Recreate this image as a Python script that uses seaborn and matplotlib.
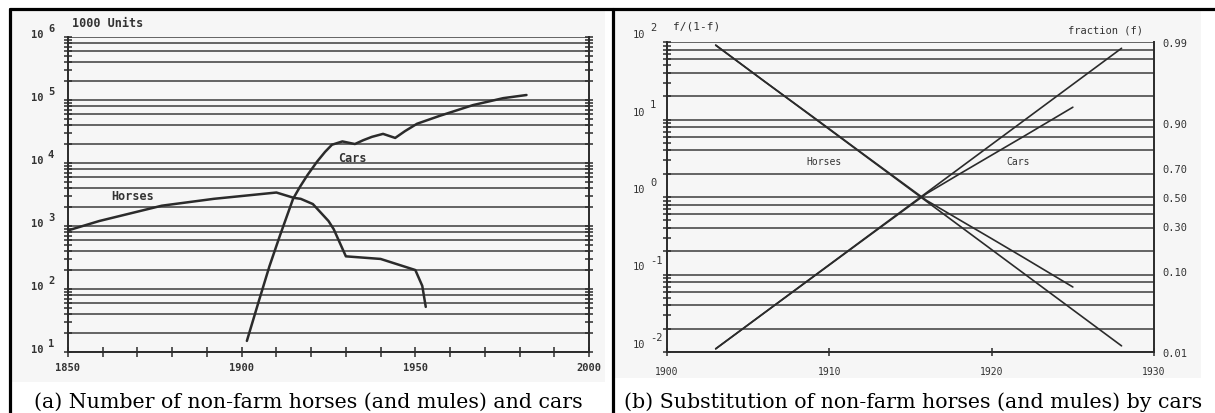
import matplotlib
matplotlib.use("Agg")
import matplotlib.pyplot as plt
import matplotlib.ticker as mticker
import matplotlib.transforms as mtransforms
from matplotlib.lines import Line2D
from matplotlib.patches import Rectangle
import pandas as pd
import seaborn as sns

# ---------------- data ----------------
# (a) non-farm horses (and mules) and cars, in 1000 units
horse_years = [1850, 1859, 1877, 1892, 1910, 1915, 1917, 1920.5, 1925, 1926.5,
               1930, 1940, 1950, 1952, 1953]
horse_units = [850, 1200, 2100, 2700, 3400, 2800, 2700, 2230, 1200, 890,
               330, 300, 200, 112, 52]

car_years = [1901.5, 1905, 1908, 1911, 1914.8, 1916.8, 1919, 1921.7, 1924, 1926,
             1929, 1932.6, 1935, 1937.5, 1940.7, 1944.2, 1947, 1950.5, 1957,
             1966.6, 1975.3, 1982]
car_units = [15, 66, 230, 700, 2700, 4200, 6500, 10500, 15000, 19500,
             22000, 20000, 23000, 26000, 29000, 25000, 32000, 42000, 56000,
             83000, 107000, 120000]

# (b) substitution f/(1-f): fitted logistic lines and observed series
fit_years = [1903, 1928]
cars_fit = [0.011, 83]
horses_fit = [91, 0.012]

obs_years = [1903, 1906, 1909, 1912, 1915, 1916, 1918, 1920, 1922, 1925]
cars_obs = [0.011, 0.032, 0.093, 0.27, 0.78, 1.11, 1.97, 3.47, 6.1, 14.4]
horses_obs = [91, 31, 10.8, 3.7, 1.28, 0.90, 0.51, 0.29, 0.164, 0.069]

fraction_ticks = [0.99, 0.90, 0.70, 0.50, 0.30, 0.10, 0.01]

decades_a = [1, 2, 3, 4, 5, 6]
decades_b = [-2, -1, 0, 1, 2]

# ---------------- style ----------------
sns.set_style("white")
plt.rcParams["font.family"] = ["DejaVu Sans Mono"]
INK = "#2b2b2b"
GRID = "#3c3c3c"
TXT = "#333333"
SCAN = "#f6f6f6"

W, H = 1215, 414
fig = plt.figure(figsize=(W / 100, H / 100), dpi=100)
fig.patch.set_facecolor("white")


def px_box(x0, y0, x1, y1):
    """Axes rectangle from pixel edges (top-left origin)."""
    return [x0 / W, 1 - y1 / H, (x1 - x0) / W, (y1 - y0) / H]


# scanned-figure backgrounds
for (x0, y0, x1, y1) in [(12, 12, 605, 383), (615, 12, 1201, 379)]:
    fig.add_artist(Rectangle((x0 / W, 1 - y1 / H), (x1 - x0) / W, (y1 - y0) / H,
                             transform=fig.transFigure, facecolor=SCAN,
                             edgecolor="none", zorder=0))

# table frame
for xs, ys in [([10, W], [10, 10]), ([10, 10], [10, H]), ([613, 613], [10, H])]:
    fig.add_artist(Line2D([x / W for x in xs], [1 - y / H for y in ys],
                          transform=fig.transFigure, color="black", lw=2.3,
                          zorder=5))


def log_frame(ax):
    ax.set_facecolor("none")
    ax.set_yscale("log")
    ax.yaxis.set_major_locator(mticker.LogLocator(base=10, subs=(1, 2, 4, 6, 8)))
    ax.yaxis.set_minor_locator(mticker.LogLocator(base=10, subs=(3, 5, 7, 9)))
    ax.yaxis.set_major_formatter(mticker.NullFormatter())
    ax.yaxis.set_minor_formatter(mticker.NullFormatter())
    ax.grid(axis="y", which="major", color=GRID, lw=1.1)
    ax.grid(axis="x", visible=False)
    ax.spines["top"].set_visible(False)
    for s in ["left", "right", "bottom"]:
        ax.spines[s].set_color(INK)
        ax.spines[s].set_linewidth(1.4)
    ax.tick_params(axis="y", which="both", direction="inout", length=6,
                   width=1.1, color=INK, left=True, right=True)
    ax.tick_params(axis="x", which="both", direction="inout", length=7,
                   width=1.1, color=INK, bottom=True)
    ax.set_xlabel("")
    ax.set_ylabel("")


def decade_labels(ax, decades, dx10, dxe, dy10, dye, size, weight):
    base = mtransforms.blended_transform_factory(ax.transAxes, ax.transData)
    for k in decades:
        t10 = mtransforms.offset_copy(base, fig=fig, x=dx10, y=dy10, units="dots")
        te = mtransforms.offset_copy(base, fig=fig, x=dxe, y=dye, units="dots")
        ax.text(0, 10.0 ** k, "10", transform=t10, ha="right", va="baseline",
                fontsize=size, fontweight=weight, color=TXT)
        ax.text(0, 10.0 ** k, str(k), transform=te, ha="left", va="baseline",
                fontsize=size, fontweight=weight, color=TXT)


# ---------------- panel (a) ----------------
axa = fig.add_axes(px_box(68, 38, 589, 353))
sns.lineplot(x=horse_years, y=horse_units, ax=axa, color=INK, lw=1.8,
             estimator=None, sort=False)
sns.lineplot(x=car_years, y=car_units, ax=axa, color=INK, lw=1.8,
             estimator=None, sort=False)
log_frame(axa)
axa.set_xlim(1850, 2000)
axa.set_ylim(10, 1e6)
axa.set_xticks([1850, 1900, 1950, 2000], labels=["1850", "1900", "1950", "2000"],
               fontsize=7.5, fontweight="bold", color=TXT)
axa.xaxis.set_minor_locator(mticker.MultipleLocator(10))
axa.tick_params(axis="x", which="major", pad=4)
decade_labels(axa, decades_a, -25, -20, 0, 6, 7.5, "bold")
axa.text(1868.7, 3000, "Horses", ha="center", va="center", fontsize=8.5,
         fontweight="bold", color=TXT)
axa.text(1932, 12400, "Cars", ha="center", va="center", fontsize=8.5,
         fontweight="bold", color=TXT)
axa.text(0.008, 1.035, "1000 Units", transform=axa.transAxes, ha="left",
         va="baseline", fontsize=8.5, fontweight="bold", color=TXT)

# ---------------- panel (b) ----------------
axb = fig.add_axes(px_box(667, 43, 1154, 353))
for ys in (horses_fit, cars_fit):
    sns.lineplot(x=fit_years, y=ys, ax=axb, color=INK, lw=1.2,
                 estimator=None, sort=False)
for ys in (horses_obs, cars_obs):
    sns.lineplot(x=obs_years, y=ys, ax=axb, color=INK, lw=1.2,
                 estimator=None, sort=False)
log_frame(axb)
axb.set_xlim(1900, 1930)
axb.set_ylim(1e-2, 1e2)
axb.set_xticks([1900, 1910, 1920, 1930], labels=["1900", "1910", "1920", "1930"],
               fontsize=7, color=TXT)
axb.tick_params(axis="x", which="major", pad=7, length=6)
decade_labels(axb, decades_b, -22, -17, 5, 12, 7.5, "normal")
axb.text(1909.7, 2.9, "Horses", ha="center", va="center", fontsize=7, color=TXT)
axb.text(1921.6, 2.9, "Cars", ha="center", va="center", fontsize=7, color=TXT)
axb.text(0.013, 1.042, "f/(1-f)", transform=axb.transAxes, ha="left",
         va="baseline", fontsize=8, color=TXT)
axb.text(0.977, 1.032, "fraction (f)", transform=axb.transAxes, ha="right",
         va="baseline", fontsize=7.5, color=TXT)

axr = axb.twinx()
axr.set_yscale("log")
axr.set_ylim(axb.get_ylim())
axr.set_yticks([f / (1 - f) for f in fraction_ticks],
               labels=[f"{f:.2f}" for f in fraction_ticks], fontsize=7.5, color=TXT)
axr.yaxis.set_minor_locator(mticker.NullLocator())
axr.tick_params(axis="y", length=0, pad=6)
axr.grid(False)
for s in axr.spines.values():
    s.set_visible(False)

# ---------------- captions ----------------
cap_kw = dict(ha="center", va="baseline", fontsize=14.8,
              fontfamily="DejaVu Serif", color="black")
fig.text(308 / W, 6 / H, "(a) Number of non-farm horses (and mules) and cars", **cap_kw)
fig.text(913 / W, 6 / H, "(b) Substitution of non-farm horses (and mules) by cars", **cap_kw)

fig.savefig("out.png", dpi=100)
